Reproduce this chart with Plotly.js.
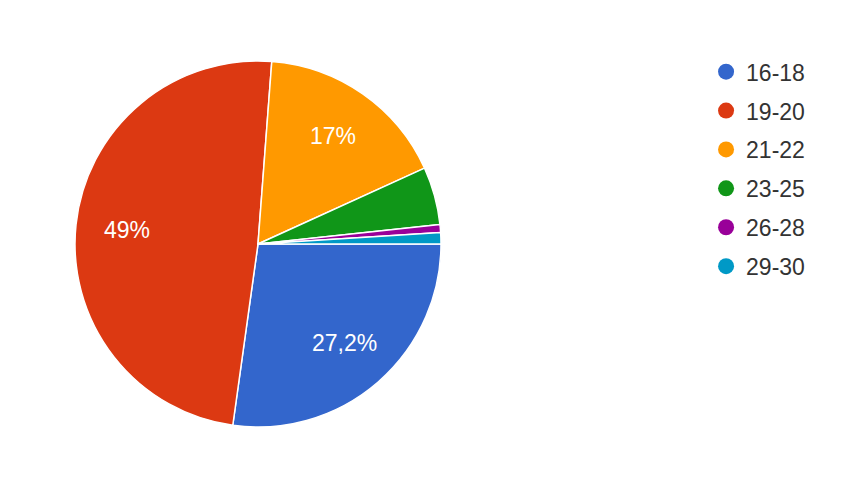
<!DOCTYPE html>
<html>
<head>
<meta charset="utf-8">
<script src="https://cdn.plot.ly/plotly-3.0.1.min.js"></script>
<style>html,body{margin:0;padding:0;background:#fff;}#chart{width:860px;height:478px;}</style>
</head>
<body>
<div id="chart"></div>
<script>
const categories = ["16-18", "19-20", "21-22", "23-25", "26-28", "29-30"];
const percentages = [27.2, 49, 17, 5.1, 0.7, 1.0];
const colors = ["#3366cc", "#dc3912", "#ff9900", "#109618", "#990099", "#0099c6"];

const W = 860, H = 478;
const dom = {x: [75/W, 441/W], y: [51/H, 417/H]};

const pie = {
  type: 'pie',
  labels: categories,
  values: percentages,
  sort: false,
  direction: 'clockwise',
  rotation: 90,
  textinfo: 'none',
  marker: {colors: colors, line: {color: '#ffffff', width: 1.5}},
  domain: dom,
  showlegend: false,
  hoverinfo: 'label+percent'
};

// slice labels placed along each slice's mid-angle (Google-Charts style)
const total = percentages.reduce((a, b) => a + b, 0);
const cxPx = (dom.x[0] + dom.x[1]) / 2 * W;
const cyPx = (dom.y[0] + dom.y[1]) / 2 * H;
const rPx = Math.min(dom.x[1] - dom.x[0], (dom.y[1] - dom.y[0]) * H / W) * W / 2;
let cum = 0;
const annotations = [];
percentages.forEach((p, i) => {
  const mid = (cum + p / 2) / total * 2 * Math.PI;
  cum += p;
  if (p / total < 0.1) return;
  const rr = 0.72 * rPx;
  annotations.push({
    xref: 'paper', yref: 'paper',
    x: (cxPx + rr * Math.cos(mid)) / W,
    y: (cyPx - rr * Math.sin(mid)) / H,
    xanchor: 'center', yanchor: 'middle',
    showarrow: false,
    text: String(p).replace('.', ',') + '%',
    font: {color: '#ffffff', size: 23, family: 'Arial, Liberation Sans, sans-serif'}
  });
});

const legendTraces = categories.map((c, i) => ({
  type: 'scatter',
  mode: 'markers',
  x: [null], y: [null],
  name: c,
  legendgroup: 'g' + i,
  marker: {color: colors[i], size: 16, symbol: 'circle'},
  showlegend: true
}));

const layout = {
  width: W, height: H,
  margin: {l: 0, r: 0, t: 0, b: 0},
  paper_bgcolor: '#ffffff',
  plot_bgcolor: '#ffffff',
  xaxis: {visible: false},
  yaxis: {visible: false},
  showlegend: true,
  annotations: annotations,
  legend: {
    x: 0.821, y: 0.895, xanchor: 'left', yanchor: 'top',
    font: {size: 23, color: '#333333', family: 'Arial, Liberation Sans, sans-serif'},
    tracegroupgap: 6,
    itemwidth: 30
  }
};

Plotly.newPlot('chart', [pie].concat(legendTraces), layout, {displayModeBar: false});
</script>
</body>
</html>
